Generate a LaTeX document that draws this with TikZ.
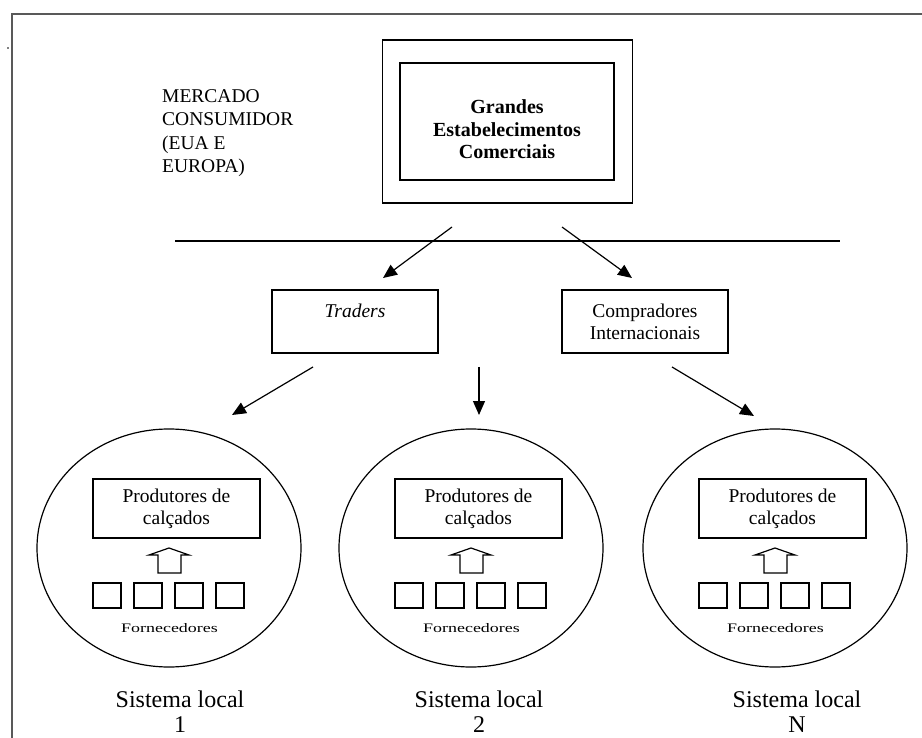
\documentclass[tikz,border=0pt]{standalone}
\usepackage{fontspec}
\setmainfont{Liberation Serif}
\usepackage{graphicx}
\usetikzlibrary{arrows.meta,shapes.geometric}

\begin{document}
\begin{tikzpicture}[x=1pt,y=-1pt,
    box/.style={draw,line width=1.3pt,inner sep=0pt,align=center},
    arr/.style={-{Triangle[length=14pt,width=12pt]},line width=1.2pt},
    font=\fontsize{19.5}{22}\selectfont]
  \useasboundingbox (0,0) rectangle (922,738);
  % page frame
  \draw[gray!70!black,line width=1.5pt] (12,738) -- (12,14) -- (922,14);
  \fill (8,48) circle (0.9);

  \node[anchor=base west,align=left,inner sep=0pt,font=\fontsize{19.5}{23.5}\selectfont]
    (mrc) at (162,173) {MERCADO\\CONSUMIDOR\\(EUA E\\EUROPA)};
  \node[box,minimum width=250,minimum height=163] (mkt) at (507.5,121.5) {};
  \node[box,minimum width=214,minimum height=117,
    label={[align=center,yshift=-8pt,font=\bfseries\fontsize{20}{22.5}\selectfont]center:Grandes\\Estabelecimentos\\Comerciais}]
    (gec) at (507,121.5) {};
  \draw[line width=1.2pt] (175,241) -- (840,241);

  \node[box,minimum width=166,minimum height=63] (trd) at (355,321.5) {\textit{Traders}\\\mbox{}};
  \node[box,minimum width=166,minimum height=63] (cmp) at (645,321.5) {Compradores\\Internacionais};

  \coordinate (mkt-l) at (452,227);
  \coordinate (mkt-r) at (562,227);
  \coordinate (trd-in) at (383,278);
  \coordinate (cmp-in) at (632,278);
  \draw[arr] (mkt-l) -- (trd-in);
  \draw[arr] (mkt-r) -- (cmp-in);

  % local systems
  \foreach \n/\b/\lx/\lab in {1/93/180/1,2/395/479/2,3/699/797/N}{
    \node[draw,ellipse,line width=1.2pt,minimum width=264,minimum height=238] (sl\n) at ({\b+76},548) {};
    \node[box,minimum width=167,minimum height=59] (pc\n) at ({\b+83.5},508.5) {Produtores de\\calçados};
    \draw[line width=1.2pt] ({\b+65},573) -- ({\b+65},555) -- ({\b+56},555) -- ({\b+76},548)
      -- ({\b+96},555) -- ({\b+88},555) -- ({\b+88},573) -- cycle;
    \foreach \i in {0,...,3}
      \node[draw,line width=1.2pt,minimum width=28,minimum height=25,inner sep=0pt] (f\n\i) at ({\b+14+41*\i},595.5) {};
    \node[font=\fontsize{13}{15}\selectfont,inner sep=0pt] (fn\n) at ({\b+76.5},628) {\scalebox{1.38}[1]{Fornecedores}};
    \node[anchor=base,align=center,inner sep=0pt,font=\fontsize{24}{25}\selectfont] (lb\n) at (\lx,732) {Sistema local\\\lab};
  }

  \coordinate (trd-o1) at (313,367);
  \coordinate (trd-o2) at (479,367);
  \coordinate (cmp-o) at (672,367);
  \coordinate (sl1-in) at (232,415);
  \coordinate (sl2-in) at (479,415);
  \coordinate (sl3-in) at (754,416);
  \draw[arr] (trd-o1) -- (sl1-in);
  \draw[arr] (trd-o2) -- (sl2-in);
  \draw[arr] (cmp-o) -- (sl3-in);
\end{tikzpicture}
\end{document}
